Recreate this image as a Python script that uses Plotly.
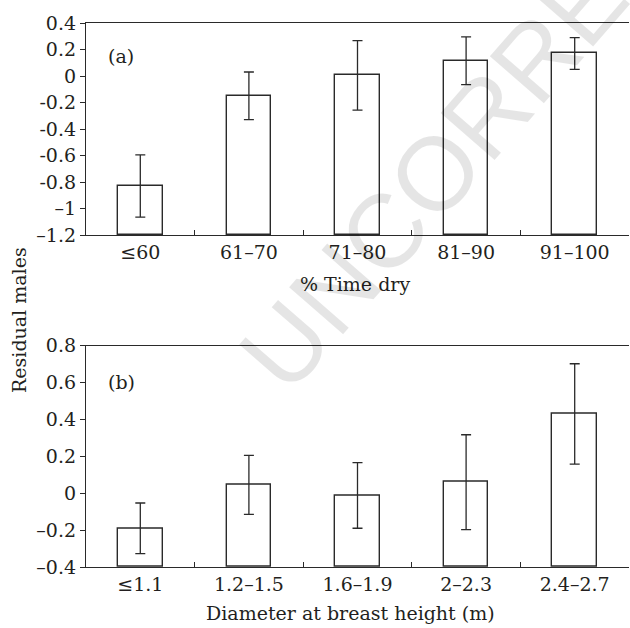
import plotly.graph_objects as go

# ---- data ----
cats_a = ["≤60", "61–70", "71–80", "81–90", "91–100"]
vals_a = [-0.83, -0.15, 0.005, 0.115, 0.17]
err_a = [0.235, 0.18, 0.262, 0.18, 0.12]

cats_b = ["≤1.1", "1.2–1.5", "1.6–1.9", "2–2.3", "2.4–2.7"]
vals_b = [-0.19, 0.045, -0.012, 0.06, 0.43]
err_b = [0.137, 0.16, 0.178, 0.257, 0.272]

ytick_a = [0.4, 0.2, 0, -0.2, -0.4, -0.6, -0.8, -1, -1.2]
ytext_a = ["0.4", "0.2", "0", "-0.2", "-0.4", "-0.6", "-0.8", "–1", "–1.2"]
ytick_b = [0.8, 0.6, 0.4, 0.2, 0, -0.2, -0.4]
ytext_b = ["0.8", "0.6", "0.4", "0.2", "0", "–0.2", "–0.4"]

range_a = [-1.2, 0.4]
range_b = [-0.4, 0.8]

FONT = "DejaVu Serif"
FS = 19
LC = "#2a2a2a"
TC = "#231f20"

fig = go.Figure()
bar_style = dict(marker=dict(color="rgba(255,255,255,0)", line=dict(color=LC, width=1.4)),
                 width=0.41, showlegend=False, hoverinfo="skip")
fig.add_trace(go.Bar(x=cats_a, y=[v - range_a[0] for v in vals_a], base=range_a[0],
                     xaxis="x", yaxis="y", **bar_style))
fig.add_trace(go.Bar(x=cats_b, y=[v - range_b[0] for v in vals_b], base=range_b[0],
                     xaxis="x2", yaxis="y2", **bar_style))
err_style = dict(mode="markers", marker=dict(size=0.1, color="rgba(0,0,0,0)"), showlegend=False)
fig.add_trace(go.Scatter(x=cats_a, y=vals_a, xaxis="x", yaxis="y",
                         error_y=dict(type="data", array=err_a, color=LC, thickness=1.3, width=5),
                         **err_style))
fig.add_trace(go.Scatter(x=cats_b, y=vals_b, xaxis="x2", yaxis="y2",
                         error_y=dict(type="data", array=err_b, color=LC, thickness=1.3, width=5),
                         **err_style))

W, H = 630, 628
ml, mr, mt, mb = 86, 1, 23, 61
ph = H - mt - mb
def py(p):
    return (H - mb - p) / ph
def px(p):
    return (p - ml) / (W - ml - mr)

xcommon = dict(showline=True, linecolor=LC, linewidth=1.3, mirror=True,
               ticks="inside", tickson="boundaries", ticklen=5, tickcolor=LC, tickwidth=1.3,
               showgrid=False, zeroline=False,
               tickfont=dict(family=FONT, size=FS, color=TC))
ycommon = dict(showline=True, linecolor=LC, linewidth=1.3,
               ticks="outside", ticklen=5, tickcolor=LC, tickwidth=1.3,
               showgrid=False, zeroline=False,
               tickfont=dict(family=FONT, size=FS, color=TC))

fig.update_layout(
    width=W, height=H,
    margin=dict(l=ml, r=mr, t=mt, b=mb),
    paper_bgcolor="white", plot_bgcolor="white",
    bargap=0,
    xaxis=dict(domain=[0, 1], anchor="y", **xcommon),
    yaxis=dict(domain=[py(235), 1], anchor="x", range=range_a,
               tickvals=ytick_a, ticktext=ytext_a, **ycommon),
    xaxis2=dict(domain=[0, 1], anchor="y2", **xcommon),
    yaxis2=dict(domain=[0, py(345.7)], anchor="x2", range=range_b,
                tickvals=ytick_b, ticktext=ytext_b, **ycommon),
)

ann_font = dict(family=FONT, size=FS, color=TC)
def label(text, x, y, **kw):
    fig.add_annotation(text=text, x=px(x), y=py(y), xref="paper", yref="paper",
                       xanchor="center", yanchor="middle", showarrow=False,
                       font=kw.pop("font", ann_font), **kw)

label("(a)", 120.5, 56.5)
label("(b)", 121.5, 382)
label("% Time dry", 355, 284)
label("Diameter at breast height (m)", 350, 613)
label("Residual males", 19, 320, textangle=-90)
# watermark
label("UNCORRECTED", 526, 69, textangle=-49,
      font=dict(family="Liberation Sans", size=104, color="rgba(0,0,0,0.1)"))

fig.write_html("out.html")
